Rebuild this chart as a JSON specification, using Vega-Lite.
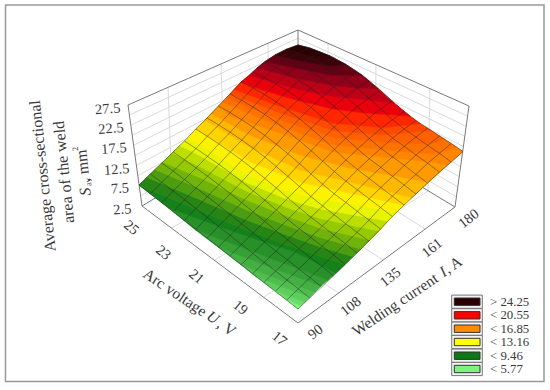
{"$schema":"https://vega.github.io/schema/vega-lite/v6.json","width":550,"height":390,"padding":0,"autosize":"none","background":"white","config":{"view":{"stroke":null},"axis":{"disable":true}},
"datasets":{
"surface":[
{"type":"Feature","properties":{"S":5.77},"geometry":{"type":"Polygon","coordinates":[[[298,309],[301,305.5],[284,298],[298,309]]]}},
{"type":"Feature","properties":{"S":6.45},"geometry":{"type":"Polygon","coordinates":[[[284,298],[301,305.5],[305,302],[287,295],[270,287.2],[284,298]]]}},
{"type":"Feature","properties":{"S":6.9},"geometry":{"type":"Polygon","coordinates":[[[270,287.2],[287,295],[305,302],[310,297],[283,287],[255,276],[270,287.2]]]}},
{"type":"Feature","properties":{"S":7.35},"geometry":{"type":"Polygon","coordinates":[[[255,276],[283,287],[310,297],[315,292],[278,279],[240,264],[255,276]]]}},
{"type":"Feature","properties":{"S":7.8},"geometry":{"type":"Polygon","coordinates":[[[240,264],[278,279],[315,292],[321,286],[270,267],[218,247],[240,264]]]}},
{"type":"Feature","properties":{"S":8.25},"geometry":{"type":"Polygon","coordinates":[[[218,247],[270,267],[321,286],[328,280],[262,255],[195,229.5],[218,247]]]}},
{"type":"Feature","properties":{"S":8.75},"geometry":{"type":"Polygon","coordinates":[[[195,229.5],[262,255],[328,280],[336,273],[295,252],[255,239],[215,225],[168,207.5],[195,229.5]]]}},
{"type":"Feature","properties":{"S":9.25},"geometry":{"type":"Polygon","coordinates":[[[168,207.5],[215,225],[255,239],[295,252],[336,273],[345,264.5],[287,245],[247,230],[203,212],[139,185],[168,207.5]]]}},
{"type":"Feature","properties":{"S":9.77},"geometry":{"type":"Polygon","coordinates":[[[139,185],[203,212],[247,230],[287,245],[345,264.5],[353,256.5],[320,246.7],[287,235],[247,220],[200,199.6],[147,177.3],[139,185]]]}},
{"type":"Feature","properties":{"S":10.4},"geometry":{"type":"Polygon","coordinates":[[[147,177.3],[200,199.6],[247,220],[287,235],[320,246.7],[353,256.5],[361,249],[320,237.3],[287,225.5],[247,210],[200,188.6],[155,169.6],[147,177.3]]]}},
{"type":"Feature","properties":{"S":11},"geometry":{"type":"Polygon","coordinates":[[[155,169.6],[200,188.6],[247,210],[287,225.5],[320,237.3],[361,249],[370,240],[320,228],[287,216],[247,200],[200,177.5],[163,162],[155,169.6]]]}},
{"type":"Feature","properties":{"S":11.6},"geometry":{"type":"Polygon","coordinates":[[[163,162],[200,177.5],[247,200],[287,216],[320,228],[370,240],[379,231],[320,218.3],[287,207.5],[247,191.3],[200,166.5],[172,153],[163,162]]]}},
{"type":"Feature","properties":{"S":12.2},"geometry":{"type":"Polygon","coordinates":[[[172,153],[200,166.5],[247,191.3],[287,207.5],[320,218.3],[379,231],[388,221],[320,208.7],[287,199],[247,182.7],[200,155.5],[180,145.5],[172,153]]]}},
{"type":"Feature","properties":{"S":12.85},"geometry":{"type":"Polygon","coordinates":[[[180,145.5],[200,155.5],[247,182.7],[287,199],[320,208.7],[388,221],[397,212],[357,205],[320,199],[287,190.5],[247,174],[200,144.5],[188,138],[180,145.5]]]}},
{"type":"Feature","properties":{"S":13.6},"geometry":{"type":"Polygon","coordinates":[[[188,138],[200,144.5],[247,174],[287,190.5],[320,199],[357,205],[397,212],[404,205],[350,193],[300,182],[250,161.5],[195.8,129],[188,138]]]}},
{"type":"Feature","properties":{"S":14.55},"geometry":{"type":"Polygon","coordinates":[[[195.8,129],[250,161.5],[300,182],[350,193],[404,205],[412,197.6],[350,182],[300,170],[250,147],[205,120],[195.8,129]]]}},
{"type":"Feature","properties":{"S":15.45},"geometry":{"type":"Polygon","coordinates":[[[205,120],[250,147],[300,170],[350,182],[412,197.6],[429,182],[350,168],[300,155],[250,135],[211,113.5],[205,120]]]}},
{"type":"Feature","properties":{"S":16.4},"geometry":{"type":"Polygon","coordinates":[[[211,113.5],[250,135],[300,155],[350,168],[429,182],[447,165.6],[433,162],[383,157],[333,152],[280,133],[230,116],[218.5,106],[211,113.5]]]}},
{"type":"Feature","properties":{"S":17.2},"geometry":{"type":"Polygon","coordinates":[[[218.5,106],[230,116],[280,133],[333,152],[383,157],[433,162],[447,165.6],[463,151.5],[457,147.5],[433,154],[383,149.6],[333,144.8],[280,126.3],[222.4,102],[218.5,106]]]}},
{"type":"Feature","properties":{"S":18},"geometry":{"type":"Polygon","coordinates":[[[222.4,102],[280,126.3],[333,144.8],[383,149.6],[433,154],[457,147.5],[445,139.5],[430,144],[383,142.2],[333,137.6],[280,119.6],[226.3,98],[222.4,102]]]}},
{"type":"Feature","properties":{"S":18.7},"geometry":{"type":"Polygon","coordinates":[[[226.3,98],[280,119.6],[333,137.6],[383,142.2],[430,144],[445,139.5],[431,130.5],[383,134.8],[333,130.4],[280,112.9],[230.2,93.7],[226.3,98]]]}},
{"type":"Feature","properties":{"S":19.45},"geometry":{"type":"Polygon","coordinates":[[[230.2,93.7],[280,112.9],[333,130.4],[383,134.8],[431,130.5],[420,123.5],[383,127.4],[333,123.2],[280,106.2],[234,89.5],[230.2,93.7]]]}},
{"type":"Feature","properties":{"S":20.2},"geometry":{"type":"Polygon","coordinates":[[[234,89.5],[280,106.2],[333,123.2],[383,127.4],[420,123.5],[410,116],[367,113],[333,109],[293,99],[253,87],[241,82],[234,89.5]]]}},
{"type":"Feature","properties":{"S":20.9},"geometry":{"type":"Polygon","coordinates":[[[241,82],[253,87],[293,99],[333,109],[367,113],[410,116],[394,103],[367,100],[330,96],[300,90],[249,75.5],[241,82]]]}},
{"type":"Feature","properties":{"S":21.65},"geometry":{"type":"Polygon","coordinates":[[[249,75.5],[300,90],[330,96],[367,100],[394,103],[378,88.5],[355,88],[330,85],[300,79],[257,68],[249,75.5]]]}},
{"type":"Feature","properties":{"S":22.4},"geometry":{"type":"Polygon","coordinates":[[[257,68],[300,79],[330,85],[355,88],[378,88.5],[362,75],[330,75],[300,69],[265,61.5],[257,68]]]}},
{"type":"Feature","properties":{"S":23.15},"geometry":{"type":"Polygon","coordinates":[[[265,61.5],[300,69],[330,75],[362,75],[346,64.5],[330,66],[300,61],[275,55],[265,61.5]]]}},
{"type":"Feature","properties":{"S":23.9},"geometry":{"type":"Polygon","coordinates":[[[275,55],[300,61],[330,66],[346,64.5],[330,56],[315,57],[300,54],[286,49.5],[275,55]]]}},
{"type":"Feature","properties":{"S":24.25},"geometry":{"type":"Polygon","coordinates":[[[286,49.5],[300,54],[315,57],[330,56],[321.5,52.5],[309.8,48],[298,45],[286,49.5]]]}}
],
"grid":[
{"I":90,"U":17,"x":298,"y":309},{"I":96,"U":17,"x":309.8,"y":298},{"I":103,"U":17,"x":321.6,"y":287},{"I":109,"U":17,"x":333.4,"y":276},{"I":116,"U":17,"x":345.1,"y":264.5},{"I":122,"U":17,"x":356.9,"y":253},{"I":129,"U":17,"x":368.7,"y":241},{"I":135,"U":17,"x":380.5,"y":229},{"I":141,"U":17,"x":392.3,"y":216.5},{"I":148,"U":17,"x":404.1,"y":205},{"I":154,"U":17,"x":415.9,"y":194},{"I":161,"U":17,"x":427.6,"y":183},{"I":167,"U":17,"x":439.4,"y":172},{"I":174,"U":17,"x":451.2,"y":162},{"I":180,"U":17,"x":463,"y":151.5},
{"I":90,"U":17.6,"x":286.6,"y":300.1},{"I":96,"U":17.6,"x":298.4,"y":288.8},{"I":103,"U":17.6,"x":310.1,"y":277.6},{"I":109,"U":17.6,"x":321.9,"y":266.3},{"I":116,"U":17.6,"x":333.6,"y":255},{"I":122,"U":17.6,"x":345.4,"y":243.7},{"I":129,"U":17.6,"x":357.1,"y":232.4},{"I":135,"U":17.6,"x":368.9,"y":220.2},{"I":141,"U":17.6,"x":380.6,"y":207.5},{"I":148,"U":17.6,"x":392.4,"y":196.2},{"I":154,"U":17.6,"x":404.2,"y":185},{"I":161,"U":17.6,"x":415.9,"y":174.3},{"I":167,"U":17.6,"x":427.7,"y":163.3},{"I":174,"U":17.6,"x":439.4,"y":153.3},{"I":180,"U":17.6,"x":451.2,"y":143.5},
{"I":90,"U":18.1,"x":275.3,"y":291.3},{"I":96,"U":18.1,"x":287,"y":280},{"I":103,"U":18.1,"x":298.8,"y":268.9},{"I":109,"U":18.1,"x":310.5,"y":257.6},{"I":116,"U":18.1,"x":322.2,"y":246.3},{"I":122,"U":18.1,"x":333.9,"y":235},{"I":129,"U":18.1,"x":345.7,"y":223.8},{"I":135,"U":18.1,"x":357.4,"y":211.5},{"I":141,"U":18.1,"x":369.1,"y":198.8},{"I":148,"U":18.1,"x":380.8,"y":187.5},{"I":154,"U":18.1,"x":392.6,"y":176.4},{"I":161,"U":18.1,"x":404.3,"y":165.4},{"I":167,"U":18.1,"x":416,"y":155},{"I":174,"U":18.1,"x":427.7,"y":145.4},{"I":180,"U":18.1,"x":439.4,"y":136},
{"I":90,"U":18.7,"x":263.9,"y":282.4},{"I":96,"U":18.7,"x":275.6,"y":271.1},{"I":103,"U":18.7,"x":287.3,"y":259.9},{"I":109,"U":18.7,"x":299,"y":248.7},{"I":116,"U":18.7,"x":310.7,"y":237.4},{"I":122,"U":18.7,"x":322.4,"y":226},{"I":129,"U":18.7,"x":334.1,"y":214.7},{"I":135,"U":18.7,"x":345.8,"y":202.4},{"I":141,"U":18.7,"x":357.5,"y":189.9},{"I":148,"U":18.7,"x":369.1,"y":178.4},{"I":154,"U":18.7,"x":380.8,"y":167.3},{"I":161,"U":18.7,"x":392.5,"y":156.8},{"I":167,"U":18.7,"x":404.2,"y":146.3},{"I":174,"U":18.7,"x":415.9,"y":137},{"I":180,"U":18.7,"x":427.6,"y":128},
{"I":90,"U":19.3,"x":252.6,"y":273.6},{"I":96,"U":19.3,"x":264.3,"y":262.4},{"I":103,"U":19.3,"x":275.9,"y":251.1},{"I":109,"U":19.3,"x":287.6,"y":239.9},{"I":116,"U":19.3,"x":299.3,"y":228.7},{"I":122,"U":19.3,"x":310.9,"y":217.3},{"I":129,"U":19.3,"x":322.6,"y":206},{"I":135,"U":19.3,"x":334.2,"y":193.8},{"I":141,"U":19.3,"x":345.9,"y":181.2},{"I":148,"U":19.3,"x":357.6,"y":169.7},{"I":154,"U":19.3,"x":369.2,"y":158.8},{"I":161,"U":19.3,"x":380.9,"y":148.3},{"I":167,"U":19.3,"x":392.6,"y":138.1},{"I":174,"U":19.3,"x":404.2,"y":129},{"I":180,"U":19.3,"x":415.9,"y":120.5},
{"I":90,"U":19.9,"x":241.2,"y":264.7},{"I":96,"U":19.9,"x":252.8,"y":253.4},{"I":103,"U":19.9,"x":264.5,"y":242.1},{"I":109,"U":19.9,"x":276.1,"y":230.8},{"I":116,"U":19.9,"x":287.7,"y":219.5},{"I":122,"U":19.9,"x":299.4,"y":207.8},{"I":129,"U":19.9,"x":311,"y":196.5},{"I":135,"U":19.9,"x":322.6,"y":184.2},{"I":141,"U":19.9,"x":334.3,"y":171.6},{"I":148,"U":19.9,"x":345.9,"y":160},{"I":154,"U":19.9,"x":357.5,"y":149},{"I":161,"U":19.9,"x":369.2,"y":138.6},{"I":167,"U":19.9,"x":380.8,"y":128.5},{"I":174,"U":19.9,"x":392.4,"y":119.7},{"I":180,"U":19.9,"x":404,"y":111.5},
{"I":90,"U":20.4,"x":229.9,"y":255.9},{"I":96,"U":20.4,"x":241.5,"y":244.4},{"I":103,"U":20.4,"x":253.1,"y":232.9},{"I":109,"U":20.4,"x":264.7,"y":221.4},{"I":116,"U":20.4,"x":276.3,"y":210},{"I":122,"U":20.4,"x":287.9,"y":198},{"I":129,"U":20.4,"x":299.5,"y":186.5},{"I":135,"U":20.4,"x":311.1,"y":174},{"I":141,"U":20.4,"x":322.7,"y":161.2},{"I":148,"U":20.4,"x":334.3,"y":149.3},{"I":154,"U":20.4,"x":345.9,"y":138.2},{"I":161,"U":20.4,"x":357.5,"y":127.7},{"I":167,"U":20.4,"x":369.1,"y":117.7},{"I":174,"U":20.4,"x":380.7,"y":108.9},{"I":180,"U":20.4,"x":392.3,"y":101},
{"I":90,"U":21,"x":218.5,"y":247},{"I":96,"U":21,"x":230.1,"y":235.3},{"I":103,"U":21,"x":241.6,"y":223.7},{"I":109,"U":21,"x":253.2,"y":211.9},{"I":116,"U":21,"x":264.8,"y":200.2},{"I":122,"U":21,"x":276.4,"y":188},{"I":129,"U":21,"x":287.9,"y":176.4},{"I":135,"U":21,"x":299.5,"y":163.6},{"I":141,"U":21,"x":311.1,"y":150.7},{"I":148,"U":21,"x":322.6,"y":138.5},{"I":154,"U":21,"x":334.2,"y":127.2},{"I":161,"U":21,"x":345.8,"y":116.6},{"I":167,"U":21,"x":357.4,"y":106.6},{"I":174,"U":21,"x":368.9,"y":98},{"I":180,"U":21,"x":380.5,"y":90.2},
{"I":90,"U":21.6,"x":207.1,"y":238.1},{"I":96,"U":21.6,"x":218.6,"y":226.3},{"I":103,"U":21.6,"x":230.2,"y":214.4},{"I":109,"U":21.6,"x":241.7,"y":202.6},{"I":116,"U":21.6,"x":253.3,"y":190.9},{"I":122,"U":21.6,"x":264.8,"y":178.4},{"I":129,"U":21.6,"x":276.3,"y":166.6},{"I":135,"U":21.6,"x":287.9,"y":153.7},{"I":141,"U":21.6,"x":299.4,"y":140.7},{"I":148,"U":21.6,"x":311,"y":128.4},{"I":154,"U":21.6,"x":322.5,"y":117.2},{"I":161,"U":21.6,"x":334.1,"y":106.3},{"I":167,"U":21.6,"x":345.6,"y":96.6},{"I":174,"U":21.6,"x":357.1,"y":88},{"I":180,"U":21.6,"x":368.7,"y":80.6},
{"I":90,"U":22.1,"x":195.8,"y":229.3},{"I":96,"U":22.1,"x":207.3,"y":217.4},{"I":103,"U":22.1,"x":218.8,"y":205.5},{"I":109,"U":22.1,"x":230.3,"y":193.6},{"I":116,"U":22.1,"x":241.8,"y":181.6},{"I":122,"U":22.1,"x":253.4,"y":169.1},{"I":129,"U":22.1,"x":264.9,"y":157.2},{"I":135,"U":22.1,"x":276.4,"y":144.3},{"I":141,"U":22.1,"x":287.9,"y":131.2},{"I":148,"U":22.1,"x":299.4,"y":118.7},{"I":154,"U":22.1,"x":310.9,"y":107.3},{"I":161,"U":22.1,"x":322.4,"y":96.6},{"I":167,"U":22.1,"x":333.9,"y":86.9},{"I":174,"U":22.1,"x":345.4,"y":78.6},{"I":180,"U":22.1,"x":356.9,"y":71.6},
{"I":90,"U":22.7,"x":184.4,"y":220.4},{"I":96,"U":22.7,"x":195.9,"y":208.5},{"I":103,"U":22.7,"x":207.4,"y":196.6},{"I":109,"U":22.7,"x":218.8,"y":184.7},{"I":116,"U":22.7,"x":230.3,"y":172.9},{"I":122,"U":22.7,"x":241.8,"y":160.2},{"I":129,"U":22.7,"x":253.3,"y":148.4},{"I":135,"U":22.7,"x":264.8,"y":135.5},{"I":141,"U":22.7,"x":276.2,"y":122.4},{"I":148,"U":22.7,"x":287.7,"y":109.9},{"I":154,"U":22.7,"x":299.2,"y":98.7},{"I":161,"U":22.7,"x":310.7,"y":88},{"I":167,"U":22.7,"x":322.2,"y":78.6},{"I":174,"U":22.7,"x":333.6,"y":70.6},{"I":180,"U":22.7,"x":345.1,"y":64},
{"I":90,"U":23.3,"x":173.1,"y":211.6},{"I":96,"U":23.3,"x":184.6,"y":199.8},{"I":103,"U":23.3,"x":196,"y":188.1},{"I":109,"U":23.3,"x":207.5,"y":176.2},{"I":116,"U":23.3,"x":218.9,"y":164.4},{"I":122,"U":23.3,"x":230.4,"y":151.9},{"I":129,"U":23.3,"x":241.8,"y":140.1},{"I":135,"U":23.3,"x":253.3,"y":127.3},{"I":141,"U":23.3,"x":264.7,"y":114.4},{"I":148,"U":23.3,"x":276.2,"y":101.8},{"I":154,"U":23.3,"x":287.6,"y":90.8},{"I":161,"U":23.3,"x":299.1,"y":80.4},{"I":167,"U":23.3,"x":310.5,"y":71.3},{"I":174,"U":23.3,"x":322,"y":63.6},{"I":180,"U":23.3,"x":333.4,"y":57.5},
{"I":90,"U":23.9,"x":161.7,"y":202.7},{"I":96,"U":23.9,"x":173.1,"y":191.1},{"I":103,"U":23.9,"x":184.5,"y":179.5},{"I":109,"U":23.9,"x":196,"y":168},{"I":116,"U":23.9,"x":207.4,"y":156.4},{"I":122,"U":23.9,"x":218.8,"y":143.9},{"I":129,"U":23.9,"x":230.2,"y":132.3},{"I":135,"U":23.9,"x":241.6,"y":119.7},{"I":141,"U":23.9,"x":253.1,"y":107.1},{"I":148,"U":23.9,"x":264.5,"y":94.6},{"I":154,"U":23.9,"x":275.9,"y":83.9},{"I":161,"U":23.9,"x":287.3,"y":73.6},{"I":167,"U":23.9,"x":298.7,"y":65},{"I":174,"U":23.9,"x":310.1,"y":57.9},{"I":180,"U":23.9,"x":321.6,"y":52.5},
{"I":90,"U":24.4,"x":150.4,"y":193.9},{"I":96,"U":24.4,"x":161.8,"y":182.5},{"I":103,"U":24.4,"x":173.2,"y":171.2},{"I":109,"U":24.4,"x":184.6,"y":159.8},{"I":116,"U":24.4,"x":196,"y":148.5},{"I":122,"U":24.4,"x":207.3,"y":136.3},{"I":129,"U":24.4,"x":218.7,"y":124.9},{"I":135,"U":24.4,"x":230.1,"y":112.6},{"I":141,"U":24.4,"x":241.5,"y":100.2},{"I":148,"U":24.4,"x":252.9,"y":87.9},{"I":154,"U":24.4,"x":264.3,"y":77.5},{"I":161,"U":24.4,"x":275.7,"y":67.5},{"I":167,"U":24.4,"x":287.1,"y":59.4},{"I":174,"U":24.4,"x":298.4,"y":52.8},{"I":180,"U":24.4,"x":309.8,"y":48},
{"I":90,"U":25,"x":139,"y":185},{"I":96,"U":25,"x":150.4,"y":174},{"I":103,"U":25,"x":161.7,"y":163},{"I":109,"U":25,"x":173.1,"y":152},{"I":116,"U":25,"x":184.4,"y":141},{"I":122,"U":25,"x":195.8,"y":129},{"I":129,"U":25,"x":207.1,"y":118},{"I":135,"U":25,"x":218.5,"y":106},{"I":141,"U":25,"x":229.9,"y":94},{"I":148,"U":25,"x":241.2,"y":82},{"I":154,"U":25,"x":252.6,"y":72},{"I":161,"U":25,"x":263.9,"y":62.5},{"I":167,"U":25,"x":275.3,"y":55},{"I":174,"U":25,"x":286.6,"y":49},{"I":180,"U":25,"x":298,"y":45}
],
"walls":[
{"id":"l5","x":140.6,"y":195.9},{"id":"l5","x":298,"y":103.8},{"id":"l7","x":139.2,"y":185.8},{"id":"l7","x":298,"y":95.6},{"id":"l10","x":137.8,"y":175.7},{"id":"l10","x":298,"y":87.4},{"id":"l12","x":136.4,"y":165.6},{"id":"l12","x":298,"y":79.2},{"id":"l15","x":135,"y":155.5},{"id":"l15","x":298,"y":71},{"id":"l17","x":133.6,"y":145.4},{"id":"l17","x":298,"y":62.8},{"id":"l20","x":132.2,"y":135.3},{"id":"l20","x":298,"y":54.6},{"id":"l22","x":130.8,"y":125.2},{"id":"l22","x":298,"y":46.4},{"id":"l25","x":129.4,"y":115.1},{"id":"l25","x":298,"y":38.2},
{"id":"r5","x":298,"y":103.8},{"id":"r5","x":456.4,"y":196.9},{"id":"r7","x":298,"y":95.6},{"id":"r7","x":457.8,"y":186.8},{"id":"r10","x":298,"y":87.4},{"id":"r10","x":459.2,"y":176.7},{"id":"r12","x":298,"y":79.2},{"id":"r12","x":460.6,"y":166.6},{"id":"r15","x":298,"y":71},{"id":"r15","x":462,"y":156.5},{"id":"r17","x":298,"y":62.8},{"id":"r17","x":463.4,"y":146.4},{"id":"r20","x":298,"y":54.6},{"id":"r20","x":464.8,"y":136.3},{"id":"r22","x":298,"y":46.4},{"id":"r22","x":466.2,"y":126.2},{"id":"r25","x":298,"y":38.2},{"id":"r25","x":467.6,"y":116.1},
{"id":"v108","x":168,"y":87.4},{"id":"v108","x":172,"y":188},{"id":"v135","x":221,"y":64},{"id":"v135","x":224,"y":157},{"id":"v161","x":268,"y":43},{"id":"v161","x":269,"y":130},
{"id":"v23","x":328,"y":43.3},{"id":"v23","x":328,"y":130},{"id":"v21","x":376,"y":64.6},{"id":"v21","x":375,"y":159},{"id":"v19","x":430,"y":88.6},{"id":"v19","x":428,"y":191},
{"id":"f23","x":172,"y":228},{"id":"f23","x":328,"y":130},{"id":"f21","x":215,"y":260},{"id":"f21","x":375,"y":159},{"id":"f19","x":264,"y":297},{"id":"f19","x":428,"y":191},
{"id":"f108","x":172,"y":188},{"id":"f108","x":339,"y":293},{"id":"f135","x":224,"y":157},{"id":"f135","x":383,"y":260},{"id":"f161","x":269,"y":130},{"id":"f161","x":425,"y":229}
],
"box":[
{"id":"base","n":1,"x":142,"y":206},{"id":"base","n":2,"x":298,"y":323},{"id":"base","n":3,"x":455,"y":207},{"id":"base","n":4,"x":469,"y":106},{"id":"base","n":5,"x":298,"y":30},{"id":"base","n":6,"x":128,"y":105},{"id":"base","n":7,"x":142,"y":206},
{"id":"back","n":1,"x":298,"y":30},{"id":"back","n":2,"x":298,"y":112},{"id":"backl","n":1,"x":142,"y":206},{"id":"backl","n":2,"x":298,"y":112},{"id":"backr","n":1,"x":298,"y":112},{"id":"backr","n":2,"x":455,"y":207}
],
"labels":[
{"t":"27.5","x":107.7,"y":109.3,"a":356,"s":14.5},{"t":"22.5","x":111,"y":129,"a":356,"s":14.5},{"t":"17.5","x":114,"y":149,"a":356,"s":14.5},{"t":"12.5","x":116.7,"y":170,"a":356,"s":14.5},{"t":"7.5","x":120,"y":189,"a":356,"s":14.5},{"t":"2.5","x":122.3,"y":210,"a":356,"s":14.5},
{"t":"25","x":131,"y":228,"a":40,"s":14.5},{"t":"23","x":163,"y":253,"a":40,"s":14.5},{"t":"21","x":196,"y":277,"a":40,"s":14.5},{"t":"19","x":240,"y":308,"a":40,"s":14.5},{"t":"17","x":279,"y":339,"a":40,"s":14.5},
{"t":"90","x":315.7,"y":332.3,"a":322,"s":14.5},{"t":"108","x":351,"y":306.7,"a":322,"s":14.5},{"t":"135","x":390.7,"y":277.7,"a":322,"s":14.5},{"t":"161","x":432.3,"y":248.3,"a":322,"s":14.5},{"t":"180","x":469,"y":219,"a":322,"s":14.5},
{"t":"Arc voltage","x":175,"y":292.5,"a":34,"s":15.5},{"t":", V","x":226.5,"y":327.5,"a":34,"s":15.5},
{"t":"Welding current","x":395,"y":304.7,"a":326,"s":15.5},{"t":", A","x":453,"y":264.8,"a":326,"s":15.5},
{"t":"Average cross-sectional","x":42.8,"y":176,"a":264,"s":16},{"t":"area of the weld","x":64,"y":172,"a":264,"s":16},
{"t":"av","x":88,"y":182,"a":264,"s":8.5},{"t":", mm","x":83,"y":166,"a":264,"s":16},{"t":"2","x":75,"y":149,"a":264,"s":8.5}
],
"italics":[
{"t":"U","x":213,"y":317.5,"a":34,"s":15.5},{"t":"I","x":443,"y":272,"a":326,"s":15.5},{"t":"S","x":85.3,"y":191.7,"a":264,"s":16}
],
"legend":[
{"label":"> 24.25","S":24.25,"y0":295.1,"y1":308.3,"i0":298,"i1":305.4,"t":301.7,"x0":451.7,"x1":482.3,"ix0":454.3,"ix1":480,"tx":490},
{"label":"< 20.55","S":20.55,"y0":308.7,"y1":321.9,"i0":311.6,"i1":319,"t":315.3,"x0":451.7,"x1":482.3,"ix0":454.3,"ix1":480,"tx":490},
{"label":"< 16.85","S":16.85,"y0":322.1,"y1":335.3,"i0":325,"i1":332.4,"t":328.7,"x0":451.7,"x1":482.3,"ix0":454.3,"ix1":480,"tx":490},
{"label":"< 13.16","S":13.16,"y0":335.4,"y1":348.6,"i0":338.3,"i1":345.7,"t":342,"x0":451.7,"x1":482.3,"ix0":454.3,"ix1":480,"tx":490},
{"label":"< 9.46","S":9.46,"y0":349.1,"y1":362.3,"i0":352,"i1":359.4,"t":355.7,"x0":451.7,"x1":482.3,"ix0":454.3,"ix1":480,"tx":490},
{"label":"< 5.77","S":5.77,"y0":362.4,"y1":375.6,"i0":365.3,"i1":372.7,"t":369,"x0":451.7,"x1":482.3,"ix0":454.3,"ix1":480,"tx":490}
],
"frame":[{"x0":5.5,"x1":544,"y0":5,"y1":381.5}]
},
"layer":[
{"data":{"name":"frame"},"mark":{"type":"rect","fill":"white","stroke":"#999999","strokeWidth":1.5},"encoding":{"x":{"field":"x0","type":"quantitative","scale":{"domain":[0,550],"range":[0,550],"nice":false,"zero":false}},"x2":{"field":"x1"},"y":{"field":"y0","type":"quantitative","scale":{"domain":[0,390],"range":[0,390],"nice":false,"zero":false}},"y2":{"field":"y1"}}},
{"data":{"name":"walls"},"mark":{"type":"line","stroke":"#dadada","strokeWidth":1},"encoding":{"x":{"field":"x","type":"quantitative"},"y":{"field":"y","type":"quantitative"},"detail":{"field":"id"}}},
{"data":{"name":"box"},"mark":{"type":"line","stroke":"#7a7a7a","strokeWidth":1},"encoding":{"x":{"field":"x","type":"quantitative"},"y":{"field":"y","type":"quantitative"},"detail":{"field":"id"},"order":{"field":"n"}}},
{"data":{"name":"surface"},"mark":{"type":"geoshape","strokeWidth":0.8},"projection":{"type":"identity","scale":1,"translate":[0,0]},"encoding":{
"fill":{"field":"properties.S","type":"quantitative","legend":null,"scale":{"domain":[5.77,9.46,13.16,16.85,20.55,24.25],"range":["#7CF47C","#0A7A14","#FFFF00","#FF8C00","#FF0000","#2A0000"],"clamp":true}},
"stroke":{"field":"properties.S","type":"quantitative","legend":null,"scale":{"domain":[5.77,9.46,13.16,16.85,20.55,24.25],"range":["#7CF47C","#0A7A14","#FFFF00","#FF8C00","#FF0000","#2A0000"],"clamp":true}}}},
{"data":{"name":"grid"},"mark":{"type":"line","stroke":"#222222","strokeWidth":0.75,"opacity":0.6},"encoding":{"x":{"field":"x","type":"quantitative"},"y":{"field":"y","type":"quantitative"},"detail":{"field":"U"},"order":{"field":"I"}}},
{"data":{"name":"grid"},"mark":{"type":"line","stroke":"#222222","strokeWidth":0.75,"opacity":0.6},"encoding":{"x":{"field":"x","type":"quantitative"},"y":{"field":"y","type":"quantitative"},"detail":{"field":"I"},"order":{"field":"U"}}},
{"data":{"name":"labels"},"mark":{"type":"text","font":"Liberation Serif","color":"#3a3a3a","baseline":"middle","align":"center"},"encoding":{"x":{"field":"x","type":"quantitative"},"y":{"field":"y","type":"quantitative"},"text":{"field":"t"},"angle":{"field":"a","type":"quantitative","scale":null},"size":{"field":"s","type":"quantitative","scale":null}}},
{"data":{"name":"italics"},"mark":{"type":"text","font":"Liberation Serif","fontStyle":"italic","color":"#3a3a3a","baseline":"middle","align":"center"},"encoding":{"x":{"field":"x","type":"quantitative"},"y":{"field":"y","type":"quantitative"},"text":{"field":"t"},"angle":{"field":"a","type":"quantitative","scale":null},"size":{"field":"s","type":"quantitative","scale":null}}},
{"data":{"name":"legend"},"mark":{"type":"rect","fill":"#f4f4f4","stroke":"#777777","strokeWidth":1},"encoding":{"x":{"field":"x0","type":"quantitative"},"x2":{"field":"x1"},"y":{"field":"y0","type":"quantitative"},"y2":{"field":"y1"}}},
{"data":{"name":"legend"},"mark":{"type":"rect","stroke":"#333333","strokeWidth":1},"encoding":{"x":{"field":"ix0","type":"quantitative"},"x2":{"field":"ix1"},"y":{"field":"i0","type":"quantitative"},"y2":{"field":"i1"},"fill":{"field":"S","type":"quantitative","legend":null}}},
{"data":{"name":"legend"},"mark":{"type":"text","font":"Liberation Serif","fontSize":12.8,"color":"#3a3a3a","baseline":"middle","align":"left"},"encoding":{"x":{"field":"tx","type":"quantitative"},"y":{"field":"t","type":"quantitative"},"text":{"field":"label"}}}
]}
